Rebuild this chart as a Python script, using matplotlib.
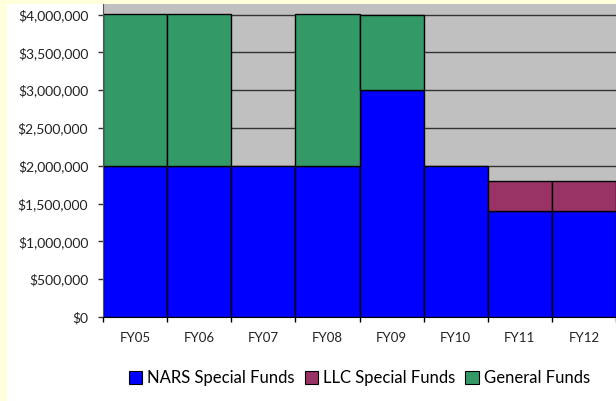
import matplotlib
matplotlib.use("Agg")
import matplotlib.pyplot as plt
from matplotlib.patches import Rectangle
from matplotlib.ticker import FuncFormatter
import numpy as np

categories = ["FY05", "FY06", "FY07", "FY08", "FY09", "FY10", "FY11", "FY12"]
nars = [2000000, 2000000, 2000000, 2000000, 3000000, 2000000, 1400000, 1400000]
llc = [0, 0, 0, 0, 0, 0, 400000, 400000]
general = [2000000, 2000000, 0, 2000000, 1000000, 0, 0, 0]
series_names = ["NARS Special Funds", "LLC Special Funds", "General Funds"]
colors = ["#0000FF", "#993366", "#339966"]

plt.rcParams['font.family'] = ['Lato', 'DejaVu Sans']

W, H = 616, 401
fig = plt.figure(figsize=(W / 100, H / 100), dpi=100)
fig.patch.set_facecolor("#FFFFDC")
fig.patches.append(Rectangle((7 / W, 0), 1, 1 - 4 / H, transform=fig.transFigure,
                             facecolor="white", edgecolor="none", zorder=-10))

ax = fig.add_axes([103 / W, 1 - 317 / H, 1 - 103 / W, (317 - 4) / H])
ax.set_zorder(1)
ax.set_facecolor("#C0C0C0")

x = np.arange(len(categories))
bottom = np.zeros(len(categories))
for vals, name, col in zip([nars, llc, general], series_names, colors):
    v = np.array(vals, dtype=float)
    mask = v > 0
    ax.bar(x[mask], v[mask], width=1.0, bottom=bottom[mask], color=col,
           edgecolor="black", linewidth=1.0, zorder=3)
    ax.bar([np.nan], [0], color=col, edgecolor="black", linewidth=0.8, label=name)
    bottom += v

for yv in np.arange(500000, 4000001, 500000):
    ax.axhline(yv, color="#333333", linewidth=1.0, zorder=1)

ax.set_xlim(-0.5, -0.5 + (W - 103) / 65)
ax.set_ylim(0, 4000000 * 313 / 302.5)
ax.set_yticks(np.arange(0, 4000001, 500000))
ax.yaxis.set_major_formatter(FuncFormatter(lambda v, p: f"${v:,.0f}"))
ax.set_xticks(x)
ax.set_xticklabels(categories)
ax.set_xticks(np.arange(-0.5, len(categories), 1.0), minor=True)
ax.tick_params(axis="x", which="major", length=0, pad=11, labelsize=9.5, labelcolor="#222222")
ax.tick_params(axis="x", which="minor", length=3.5, width=1, color="black")
ax.tick_params(axis="y", length=3.6, width=1, color="#333333", pad=7, labelsize=10, labelcolor="#222222")

for s in ["top", "right"]:
    ax.spines[s].set_visible(False)
ax.spines["left"].set_color("#555555")
ax.spines["bottom"].set_color("black")
ax.spines["left"].set_zorder(4)
ax.spines["bottom"].set_zorder(4)

leg = fig.legend(loc="center", bbox_to_anchor=((103 + W) / 2 / W, 1 - 378 / H),
                 ncol=3, frameon=False, fontsize=12, handlelength=0.8, handleheight=0.8,
                 handletextpad=0.3, columnspacing=0.6)

fig.savefig("out.png", dpi=100, facecolor=fig.get_facecolor())
